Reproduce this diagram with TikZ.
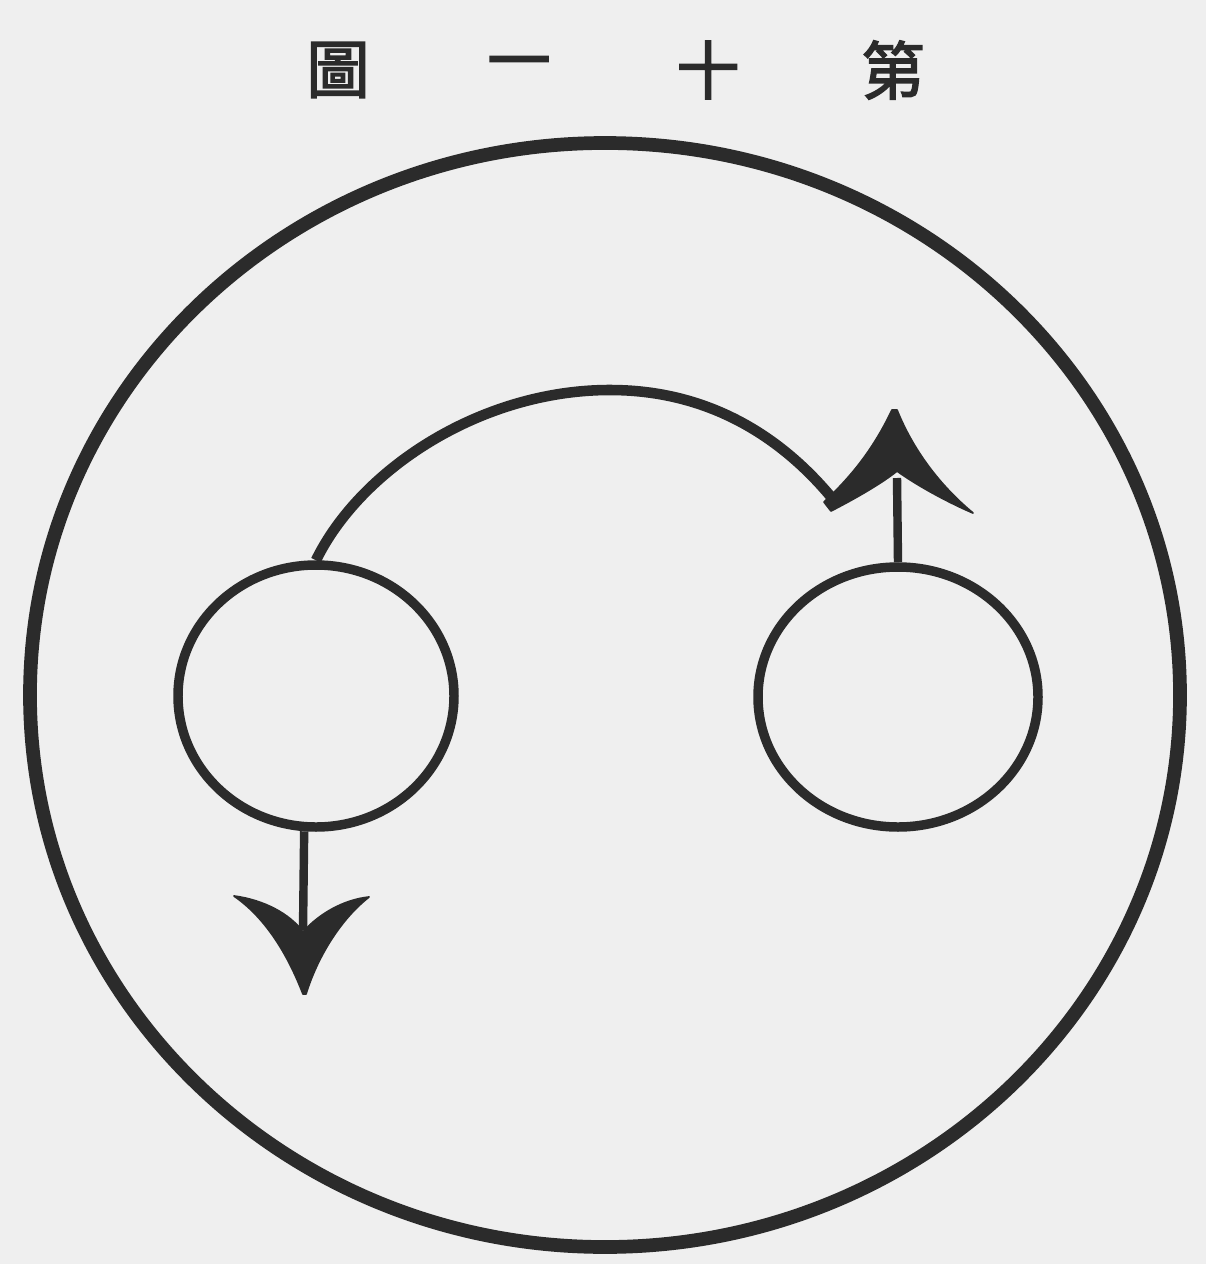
\documentclass[tikz,border=0pt]{standalone}
\usepackage{fontspec}
\newfontfamily\cjk{Noto Sans CJK TC}[AutoFakeBold=2.5]
\usetikzlibrary{shapes.geometric}
\definecolor{paper}{HTML}{EFEFEF}
\definecolor{ink}{HTML}{2B2B2B}
\tikzset{
  title/.style={text=ink, font=\cjk\bfseries\fontsize{36}{36}\selectfont, inner sep=0pt, anchor=center},
  outerring/.style={draw=ink, line width=7.8pt, ellipse, inner sep=0pt, minimum width=1150*0.02cm, minimum height=1104*0.02cm},
  body/.style={draw=ink, line width=5.4pt, ellipse, inner sep=0pt},
  stem/.style={draw=ink, line width=4.8pt},
  path/.style={draw=ink, line width=6pt},
  head/.style={fill=ink, draw=ink, line width=1pt, line join=round}
}
\begin{document}
\begin{tikzpicture}[x=0.02cm, y=-0.02cm]
  \fill[paper] (0,0) rectangle (1206,1264);
  \useasboundingbox (0,0) rectangle (1206,1264);
  % title (printed right to left)
  \node[title] (t1) at (338,70) {圖};
  \node[title] (t2) at (519,70) {一};
  \node[title] (t3) at (708,70) {十};
  \node[title] (t4) at (893,70) {第};
  % outer circle
  \node[outerring] (O) at (605,695) {};
  % two small circles
  \node[body, minimum width=276*0.02cm, minimum height=262*0.02cm] (L) at (316,696) {};
  \node[body, minimum width=280*0.02cm, minimum height=260*0.02cm] (R) at (898,697) {};
  % coordinates
  \coordinate (dj) at (303,930);
  \coordinate (uj) at (897,478);
  \coordinate (ae) at (836,503);
  \coordinate (pk) at (610,390);
  % down arrow from left circle
  \draw[stem] (L.265) -- (dj);
  \fill[head] (303,994) .. controls (288,955) and (266,918) .. (234,896)
     .. controls (264,900) and (290,914) .. (303,932)
     .. controls (318,915) and (342,900) .. (369,897)
     .. controls (342,918) and (318,955) .. (306,994) -- cycle;
  % up arrow from right circle
  \draw[stem] (R.north) -- (uj);
  \fill[head] (892,410) .. controls (874,448) and (852,476) .. (824,502)
     -- (831,511)
     .. controls (858,497) and (882,483) .. (897,471)
     .. controls (915,484) and (945,501) .. (973,513)
     .. controls (945,490) and (915,455) .. (897,410) -- cycle;
  % curved path from left circle to the right arrow
  \draw[path] (L.north) .. controls (360,470) and (480,390) .. (pk)
     .. controls (720,390) and (792,448) .. (ae);
\end{tikzpicture}
\end{document}
